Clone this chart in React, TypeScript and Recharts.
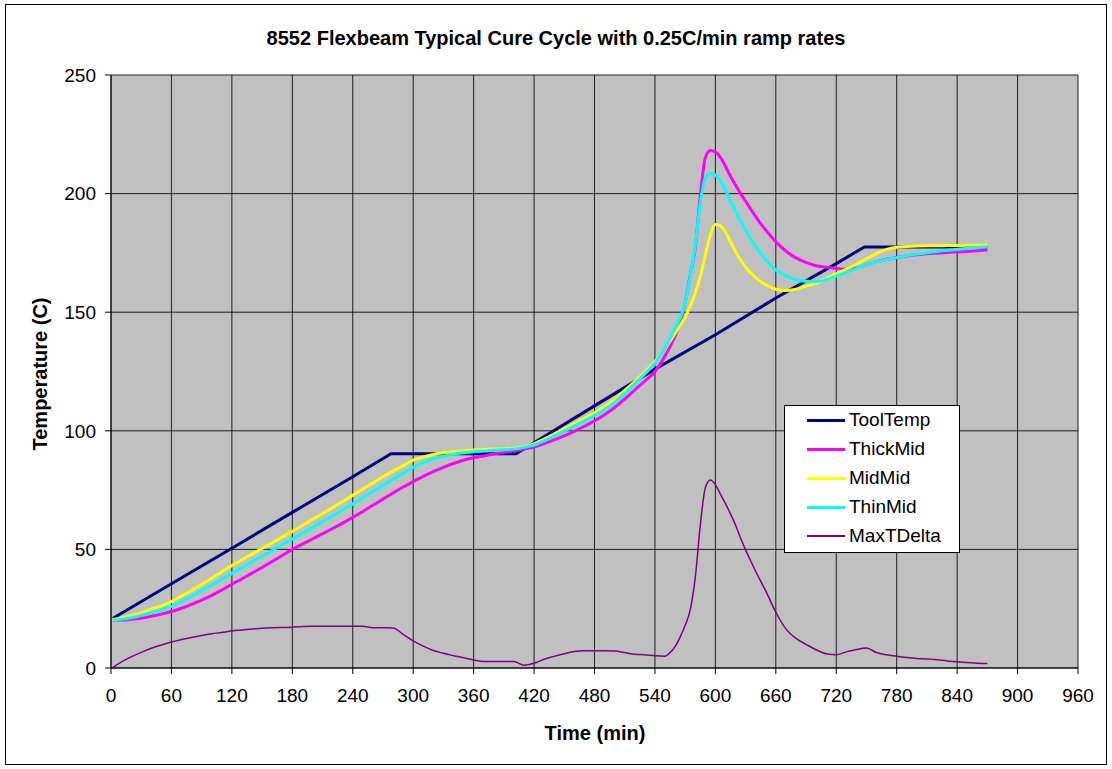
import React from 'react';
import { LineChart, Line, XAxis, YAxis, CartesianGrid, Legend } from 'recharts';

// Time (min) sample points shared by the thermocouple series
const times = [
  2, 10, 20, 30, 40, 50, 60, 70, 80, 90,
  100, 110, 120, 130, 140, 150, 160, 170, 180, 190,
  200, 210, 220, 230, 240, 250, 260, 270, 280, 290,
  300, 310, 320, 330, 340, 350, 360, 370, 380, 390,
  400, 410, 420, 430, 440, 450, 460, 470, 480, 490,
  500, 510, 520, 530, 540,
  550, 555, 560, 565, 570, 575, 580, 585, 590, 595,
  600, 605, 610, 615, 620, 625, 630, 635, 640, 645, 650,
  660, 670, 680, 690, 700, 710, 720, 730, 740, 750,
  760, 770, 780, 790, 800, 810, 820, 830, 840, 850, 860, 870,
];

const thickMid = [
  20.2, 20.2, 20.5, 21, 21.8, 22.7, 23.8, 25.2, 26.8, 28.6,
  30.6, 32.9, 35.3, 37.6, 40, 42.4, 44.9, 47.4, 50, 52.2,
  54.4, 56.6, 58.8, 61.1, 63.5, 66, 68.6, 71.2, 73.8, 76.3,
  78.6, 80.8, 82.8, 84.6, 86.2, 87.6, 88.6, 89.4, 90.2, 90.9,
  91.5, 92.3, 93.2, 94.6, 96.2, 97.9, 99.8, 101.9, 104.2, 106.8,
  109.8, 113.4, 117.2, 121, 125,
  131.5, 135.5, 140, 145.5, 154, 165.5, 177, 199, 215, 218.2,
  217.5, 215.3, 211.5, 207.3, 203.6, 200, 196.8, 193.5, 190.3, 187.3, 184.6,
  179.7, 175.8, 172.9, 171, 169.6, 169, 168.4, 168.1, 168.6, 170,
  171.3, 172.3, 173.1, 173.7, 174.2, 174.6, 174.9, 175.2, 175.4, 175.6, 175.9, 176.2,
];

const midMid = [
  20.5, 21, 22, 23.3, 24.8, 26.2, 28, 30.3, 32.7, 35.2,
  37.8, 40.5, 43.2, 45.6, 48, 50.4, 52.8, 55.2, 57.6, 60.1,
  62.6, 65.1, 67.6, 70.2, 72.8, 75.4, 78, 80.6, 83, 85.3,
  87.6, 89, 90, 90.7, 91.2, 91.6, 91.9, 92.1, 92.3, 92.4,
  92.6, 93.3, 94.6, 96.5, 98.6, 100.8, 103, 105.3, 107.6, 110.2,
  113.3, 117, 120.8, 124.8, 129.1,
  134.6, 137.8, 141, 144.4, 148, 152.5, 158, 165, 174, 182.5,
  187, 186.4, 183.8, 179.8, 175.6, 172, 169, 166.6, 164.6, 162.9, 161.6,
  159.7, 159.1, 159.7, 161, 162.2, 164.2, 166.3, 168.2, 170.2, 172.5,
  174.8, 176.5, 177.4, 177.7, 177.9, 178, 178, 178.1, 178.1, 178.2, 178.2, 178.3,
];

const thinMid = [
  20.2, 20.5, 21.2, 22.2, 23.4, 24.6, 26, 28, 30.2, 32.6,
  35, 37.4, 39.9, 42.3, 44.8, 47.2, 49.6, 52, 54.4, 56.8,
  59.2, 61.7, 64.2, 66.7, 69.2, 71.8, 74.4, 77, 79.5, 82.1,
  84.6, 86.6, 88.2, 89.3, 90.1, 90.7, 91.2, 91.5, 91.8, 92,
  92.3, 93, 94, 95.8, 97.8, 99.9, 102, 104.2, 106.4, 109,
  112, 115.8, 119.8, 124, 128.5,
  135, 139, 143.5, 147.5, 154, 165, 178, 196, 206.5, 208.5,
  207.8, 205.5, 201.5, 197, 192.6, 188.5, 184.6, 181, 177.7, 174.8, 172.2,
  167.8, 165.3, 163.7, 163, 162.9, 163.7, 165.2, 166.8, 168.4, 170,
  171.3, 172.2, 173, 173.8, 174.5, 175.1, 175.6, 176.1, 176.5, 176.9, 177.3, 177.6,
];

const maxTDelta = [
  0.3, 2.5, 4.7, 6.6, 8.3, 9.7, 11, 12, 12.9, 13.7,
  14.4, 15, 15.6, 16, 16.4, 16.8, 17, 17.1, 17.2, 17.5,
  17.6, 17.6, 17.6, 17.6, 17.6, 17.6, 17, 17, 16.9, 14.2,
  11.4, 9.2, 7.4, 6.2, 5.2, 4.3, 3.4, 2.7, 2.7, 2.7,
  2.7, 1.2, 2, 3.7, 4.9, 6, 7, 7.3, 7.3, 7.3,
  7.2, 6.5, 5.8, 5.6, 5.2,
  5, 6.5, 9, 13, 18, 24.5, 38, 60, 76, 79.3,
  77.3, 73.3, 69.3, 65, 60.3, 54.8, 49.8, 45.2, 40.8, 36.6, 32.5,
  23.5, 16.5, 12.5, 10, 7.7, 6, 5.6, 6.8, 7.8, 8.4,
  6.5, 5.6, 5, 4.4, 4, 3.8, 3.5, 3, 2.6, 2.3, 2, 1.9,
];

// Tool temperature (ramp / hold / ramp / hold)
const toolTimes = [2, 60, 120, 180, 240, 278, 402, 420, 480, 540, 600, 660, 720, 748, 870];
const toolTemp = [21, 35.5, 50.5, 65.6, 80.6, 90.3, 90.3, 95, 110.5, 126, 140.5, 156, 170.5, 177.5, 177.5];

const xTicks = [0, 60, 120, 180, 240, 300, 360, 420, 480, 540, 600, 660, 720, 780, 840, 900, 960];
const yTicks = [0, 50, 100, 150, 200, 250];

const seriesNames = ['ToolTemp', 'ThickMid', 'MidMid', 'ThinMid', 'MaxTDelta'];
const seriesColors = ['#000080', '#FF00FF', '#FFFF00', '#00FFFF', '#800080'];
const seriesWidths = [3, 3, 3, 3, 1.5];

const rows = times.map((t, i) => ({
  t,
  ThickMid: thickMid[i],
  MidMid: midMid[i],
  ThinMid: thinMid[i],
  MaxTDelta: maxTDelta[i],
}));
const toolRows = toolTimes.map((t, i) => ({ t, ToolTemp: toolTemp[i] }));

const FONT = '"Liberation Sans", Arial, Helvetica, sans-serif';
const W = 1112;
const H = 769;

const LegendBox = () => (
  <div
    style={{
      width: 176,
      height: 148,
      background: '#fff',
      border: '1px solid #000',
      boxSizing: 'border-box',
      position: 'relative',
      fontFamily: FONT,
    }}
  >
    {seriesNames.map((name, i) => (
      <div
        key={name}
        style={{
          position: 'absolute',
          left: 22,
          top: 14 + i * 29 - 12,
          height: 24,
          display: 'flex',
          alignItems: 'center',
          whiteSpace: 'nowrap',
        }}
      >
        <div style={{ width: 38, height: seriesWidths[i], background: seriesColors[i] }} />
        <span style={{ marginLeft: 4, fontSize: 19, color: '#000', lineHeight: '24px' }}>{name}</span>
      </div>
    ))}
  </div>
);

export default function App() {
  return (
    <div
      style={{
        position: 'absolute',
        left: 0,
        top: 0,
        width: W,
        height: H,
        background: '#fff',
        fontFamily: FONT,
        overflow: 'hidden',
      }}
    >
      <svg width={W} height={H} style={{ position: 'absolute', left: 0, top: 0 }}>
        <rect x={5.5} y={4.5} width={1101} height={760} fill="#fff" stroke="#000" strokeWidth={1} />
        <text x={556} y={45} textAnchor="middle" fontSize={20} fontWeight="bold" fill="#000" fontFamily={FONT}>
          8552 Flexbeam Typical Cure Cycle with 0.25C/min ramp rates
        </text>
        <text x={595} y={740} textAnchor="middle" fontSize={20} fontWeight="bold" fill="#000" fontFamily={FONT}>
          Time (min)
        </text>
        <text
          transform="translate(47,374) rotate(-90)"
          textAnchor="middle"
          fontSize={20}
          fontWeight="bold"
          fill="#000"
          fontFamily={FONT}
        >
          Temperature (C)
        </text>
      </svg>
      <div style={{ position: 'absolute', left: 0, top: 0 }}>
        <LineChart width={W} height={H} data={rows} margin={{ top: 75, right: 34, bottom: 0, left: 0 }}>
          <CartesianGrid fill="#C0C0C0" stroke="#000" strokeOpacity={0.85} />
          <XAxis
            type="number"
            dataKey="t"
            domain={[0, 960]}
            ticks={xTicks}
            interval={0}
            height={101}
            tickSize={6}
            tickMargin={15}
            stroke="#000"
            tick={{ fill: '#000', fontSize: 19, fontFamily: FONT }}
            allowDataOverflow
          />
          <YAxis
            type="number"
            domain={[0, 250]}
            ticks={yTicks}
            interval={0}
            width={111}
            tickSize={6}
            tickMargin={9}
            stroke="#000"
            tick={{ fill: '#000', fontSize: 19, fontFamily: FONT }}
            allowDataOverflow
          />
          <Legend
            layout="vertical"
            align="center"
            verticalAlign="middle"
            content={() => <LegendBox />}
            wrapperStyle={{ left: 784, top: 405, width: 176, height: 148 }}
          />
          <Line
            data={toolRows}
            dataKey="ToolTemp"
            type="linear"
            stroke={seriesColors[0]}
            strokeWidth={seriesWidths[0]}
            dot={false}
            activeDot={false}
            isAnimationActive={false}
          />
          <Line
            dataKey="ThickMid"
            type="monotone"
            stroke={seriesColors[1]}
            strokeWidth={seriesWidths[1]}
            dot={false}
            activeDot={false}
            isAnimationActive={false}
          />
          <Line
            dataKey="MidMid"
            type="monotone"
            stroke={seriesColors[2]}
            strokeWidth={seriesWidths[2]}
            dot={false}
            activeDot={false}
            isAnimationActive={false}
          />
          <Line
            dataKey="ThinMid"
            type="monotone"
            stroke={seriesColors[3]}
            strokeWidth={seriesWidths[3]}
            dot={false}
            activeDot={false}
            isAnimationActive={false}
          />
          <Line
            dataKey="MaxTDelta"
            type="monotone"
            stroke={seriesColors[4]}
            strokeWidth={seriesWidths[4]}
            dot={false}
            activeDot={false}
            isAnimationActive={false}
          />
        </LineChart>
      </div>
    </div>
  );
}
